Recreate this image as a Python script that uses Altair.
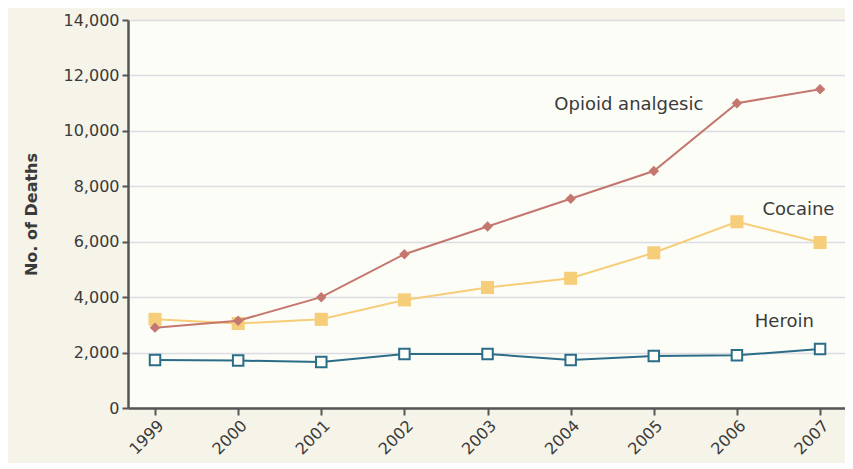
import altair as alt
import pandas as pd

years = [1999, 2000, 2001, 2002, 2003, 2004, 2005, 2006, 2007]
opioid = [2900, 3150, 4000, 5550, 6550, 7550, 8550, 11000, 11500]
cocaine = [3200, 3050, 3200, 3900, 4350, 4680, 5600, 6720, 5970]
heroin = [1730, 1710, 1660, 1950, 1950, 1730, 1880, 1900, 2130]

series_names = ["Opioid analgesic", "Cocaine", "Heroin"]
label_x = [2004.7, 2006.74, 2006.57]
label_y = [10950, 7150, 3100]

colors = {"Opioid analgesic": "#c4776e", "Cocaine": "#f6cd78", "Heroin": "#2b6d88"}

rows = []
for name, vals in zip(series_names, [opioid, cocaine, heroin]):
    for yr, v in zip(years, vals):
        rows.append({"year": yr, "deaths": v, "series": name})
df = pd.DataFrame(rows)
lab = pd.DataFrame({"series": series_names, "x": label_x, "y": label_y})

FONT = "DejaVu Sans"
TXT = "#3a3a3a"
xscale = alt.Scale(domain=[1998.675, 2007.3], nice=False, zero=False)
yscale = alt.Scale(domain=[0, 14000], nice=False)

x = alt.X("year:Q", scale=xscale, axis=alt.Axis(
    values=years, format="d", labelAngle=-45, title=None, grid=False,
    tickSize=7, tickColor="#555555", domainColor="#555555", domainWidth=2.5,
    tickWidth=2, labelFontSize=16, labelColor=TXT, labelFont=FONT,
    labelPadding=2))
y = alt.Y("deaths:Q", scale=yscale, axis=alt.Axis(
    values=list(range(0, 14001, 2000)), format=",d", title="No. of Deaths",
    titleFontSize=16, titleFont=FONT, titleFontWeight="bold", titleColor=TXT,
    titlePadding=24, grid=True, gridColor="#dcdde0", gridWidth=1.5,
    tickSize=6, tickColor="#555555", domainColor="#555555", domainWidth=2.5,
    tickWidth=2, labelFontSize=16, labelColor=TXT, labelFont=FONT,
    labelPadding=3))

def series_chart(name, shape, size, filled, fill):
    d = df[df.series == name]
    c = colors[name]
    line = alt.Chart(d).mark_line(color=c, strokeWidth=2).encode(x=x, y=y)
    pts = alt.Chart(d).mark_point(
        shape=shape, size=size, filled=True, fill=fill, stroke=c,
        strokeWidth=2 if not filled else 0, opacity=1
    ).encode(x=x, y=y)
    return line + pts

opi = series_chart("Opioid analgesic", "diamond", 110, True, colors["Opioid analgesic"])
coc = series_chart("Cocaine", "square", 170, True, colors["Cocaine"])
her = series_chart("Heroin", "square", 110, False, "#fdfdfa")

labels = alt.Chart(lab).mark_text(
    font=FONT, fontSize=18, color=TXT, align="center", baseline="middle"
).encode(x=alt.X("x:Q", scale=xscale), y=alt.Y("y:Q", scale=yscale), text="series:N")

chart = alt.layer(coc, opi, her, labels).properties(
    width=717, height=388,
    autosize=alt.AutoSizeParams(type="none"),
    padding={"left": 120, "top": 12, "right": 0, "bottom": 55},
    background="#f6f3e8",
).configure_view(fill="#fdfdf8", stroke=None)

chart.save("out.html", embed_options={"renderer": "svg", "actions": False})
